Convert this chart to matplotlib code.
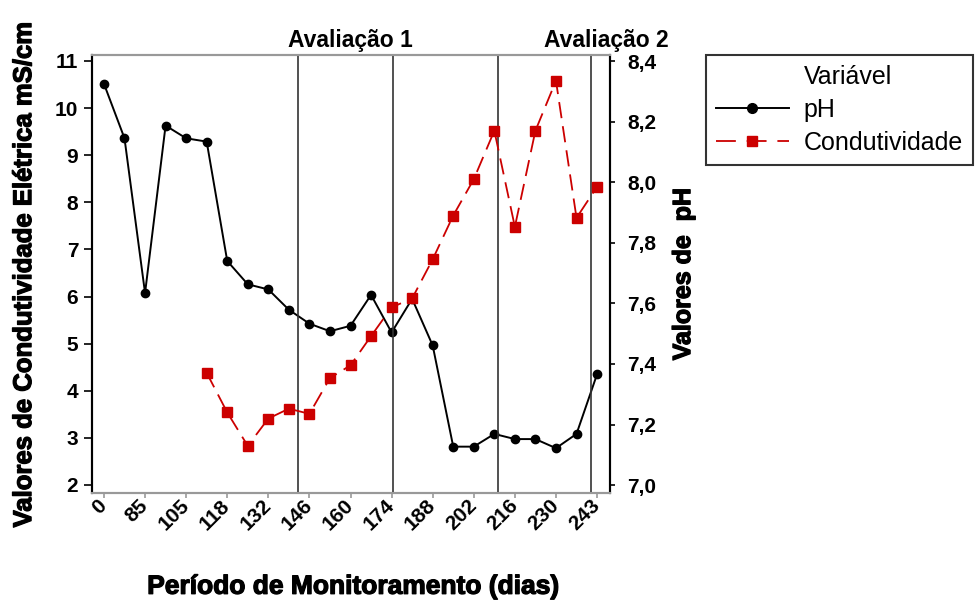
import matplotlib
matplotlib.use("Agg")
import matplotlib.pyplot as plt
import matplotlib.patheffects as pe
from matplotlib.lines import Line2D
import numpy as np

plt.rcParams['font.family'] = ['Liberation Sans', 'DejaVu Sans']

# Sampling sequence (25 collections); every second one is labelled in days
day_labels = ["0", "85", "105", "118", "132", "146", "160", "174",
              "188", "202", "216", "230", "243"]

ph = [8.325, 8.145, 7.634, 8.187, 8.145, 8.134, 7.740, 7.663, 7.646,
      7.579, 7.533, 7.508, 7.526, 7.628, 7.504, 7.615, 7.461, 7.127,
      7.127, 7.169, 7.152, 7.152, 7.122, 7.169, 7.366]

# conductivity measured from the 6th collection onwards (mS/cm)
cond = [np.nan] * 5 + [4.38, 3.54, 2.83, 3.41, 3.62, 3.51, 4.27, 4.54,
                       5.16, 5.77, 5.96, 6.79, 7.72, 8.49, 9.52, 7.48,
                       9.52, 10.58, 7.67, 8.33]

x = np.arange(len(ph))

fig = plt.figure(figsize=(9.76, 6.01), dpi=100)
ax = fig.add_axes([0.0943, 0.1797, 0.625 - 0.0943, 0.9085 - 0.1797])
ax2 = ax.twinx()
ax.set_zorder(ax2.get_zorder() + 1)
ax.patch.set_visible(False)

red = "#CC0000"
dash = (0, (9, 4.5))
heavy = [pe.withStroke(linewidth=0.9, foreground="black")]

# evaluation period boundaries
for xv in (9.46, 14.06, 19.2, 23.7):
    ax.axvline(xv, color="#333333", lw=1.2, zorder=1)

ax2.plot(x, ph, color="black", lw=1.4, marker="o", markersize=6, zorder=3)
ax.plot(x, cond, color=red, lw=1.3, ls=dash, marker="s",
        markersize=6.5, zorder=4)

ax.set_xlim(-0.58, 24.63)
ax.set_ylim(1.83, 11.127)
ax2.set_ylim(6.974, 8.42)

ax.set_xticks(x[::2])
ax.set_xticklabels(day_labels, rotation=45, ha="right", va="center",
                   rotation_mode="anchor", fontweight="bold", fontsize=15)
ax.set_yticks(range(2, 12))
ax.set_yticklabels([str(v) for v in range(2, 12)], fontweight="bold", fontsize=15)
rt = [7.0, 7.2, 7.4, 7.6, 7.8, 8.0, 8.2, 8.4]
ax2.set_yticks(rt)
ax2.set_yticklabels([f"{v:.1f}".replace(".", ",") for v in rt],
                    fontweight="bold", fontsize=15)

ax.tick_params(axis="x", length=3.6, width=1.2, color="#999999", pad=3.5)
ax.tick_params(axis="y", length=6, width=1.2, color="black", pad=4)
ax2.tick_params(axis="y", length=3.5, width=1.2, color="black", pad=9)

for a in (ax, ax2):
    a.spines["top"].set_color("#999999")
    a.spines["bottom"].set_color("#999999")
    for s in a.spines.values():
        s.set_linewidth(1.5)

ax.set_ylabel("Valores de Condutividade Elétrica mS/cm", fontweight="bold",
              fontsize=18.5, path_effects=heavy)
ax.yaxis.set_label_coords(-0.108, 0.5)
ax2.set_ylabel("Valores de  pH", fontweight="bold", fontsize=18,
               path_effects=heavy)
ax2.yaxis.set_label_coords(1.118, 0.5)
fig.text(0.362, 0.012, "Período de Monitoramento (dias)", ha="center",
         va="baseline", fontweight="bold", fontsize=19, path_effects=heavy)

ax.text(12.0, 1.018, "Avaliação 1", transform=ax.get_xaxis_transform(),
        ha="center", va="baseline", fontweight="bold", fontsize=16.5)
ax.text(24.45, 1.018, "Avaliação 2", transform=ax.get_xaxis_transform(),
        ha="center", va="baseline", fontweight="bold", fontsize=16.5)

handles = [
    Line2D([], [], color="none"),
    Line2D([], [], color="black", lw=1.4, marker="o", markersize=7),
    Line2D([], [], color=red, lw=1.3, ls=(0, (11, 6)), marker="s", markersize=7),
]
leg = fig.legend(handles, ["Variável", "pH", "Condutividade"],
                 loc="upper left", bbox_to_anchor=(0.7234, 0.9085),
                 fontsize=18, frameon=True, fancybox=False, handlelength=2.9,
                 handletextpad=0.6, borderpad=0.4, labelspacing=0.36,
                 borderaxespad=0)
leg.get_frame().set_edgecolor("black")
leg.get_frame().set_linewidth(1.5)

fig.savefig("out.png", dpi=100)
